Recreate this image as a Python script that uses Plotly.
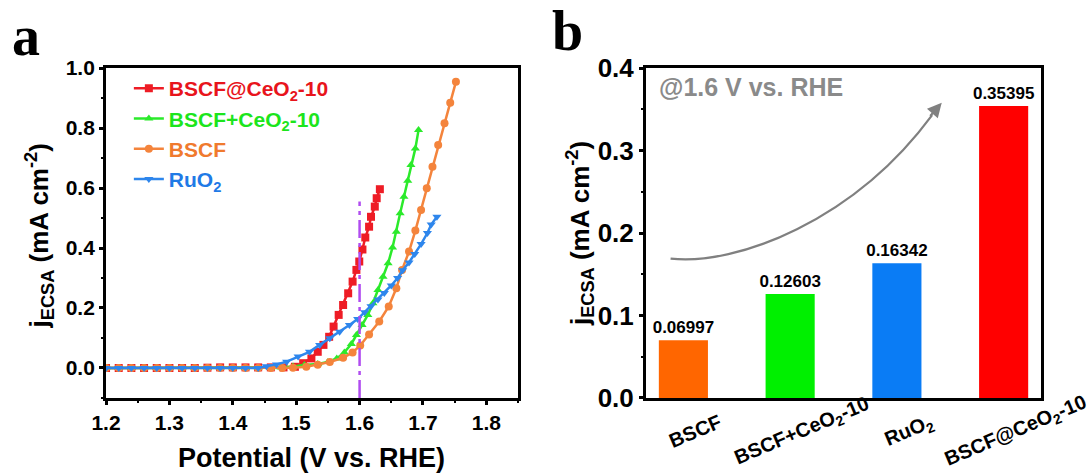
import plotly.graph_objects as go

# ---------------- Panel a data ----------------
flat_x = [1.20, 1.22, 1.24, 1.26, 1.28, 1.30, 1.32, 1.34, 1.36, 1.38, 1.40, 1.42, 1.44]

red_x = flat_x + [1.46, 1.48, 1.498, 1.511, 1.524, 1.534, 1.543, 1.552, 1.559, 1.567, 1.574,
                  1.582, 1.589, 1.595, 1.5995, 1.6045, 1.609, 1.615, 1.618, 1.624, 1.627, 1.632]
red_y = [0.0, 0.0, 0.0, 0.0, 0.0, 0.0, 0.0, 0.0, 0.001, 0.002, 0.002, 0.002, 0.002,
         0.002, 0.002, 0.004, 0.016, 0.032, 0.054, 0.077, 0.104, 0.138, 0.177, 0.21,
         0.249, 0.288, 0.327, 0.355, 0.395, 0.435, 0.471, 0.504, 0.538, 0.566, 0.596]

green_x = flat_x + [1.46, 1.476, 1.495, 1.513, 1.534, 1.55, 1.564, 1.576, 1.587, 1.595, 1.604,
                    1.613, 1.621, 1.629, 1.637, 1.645, 1.652, 1.658, 1.664, 1.67, 1.676, 1.681,
                    1.688, 1.693]
green_y = [0.0] * 13 + [0.001, 0.002, 0.005, 0.01, 0.013, 0.02, 0.032, 0.052, 0.08, 0.11, 0.143,
                        0.177, 0.216, 0.26, 0.304, 0.349, 0.402, 0.454, 0.516, 0.571, 0.624,
                        0.677, 0.732, 0.793]

orange_x = flat_x + [1.46, 1.478, 1.495, 1.516, 1.534, 1.553, 1.574, 1.589, 1.601, 1.615, 1.631,
                     1.646, 1.658, 1.667, 1.678, 1.688, 1.697, 1.706, 1.715, 1.724, 1.734,
                     1.743, 1.752]
orange_y = [0.0] * 13 + [0.0, 0.0, 0.001, 0.004, 0.011, 0.02, 0.034, 0.052, 0.075, 0.112, 0.155,
                         0.205, 0.266, 0.327, 0.388, 0.458, 0.527, 0.599, 0.671, 0.743, 0.816,
                         0.884, 0.954]

blue_x = flat_x + [1.453, 1.469, 1.485, 1.503, 1.521, 1.537, 1.553, 1.5685, 1.584, 1.597, 1.608,
                   1.618, 1.629, 1.639, 1.65, 1.66, 1.668, 1.678, 1.687, 1.697, 1.707, 1.713, 1.722]
blue_y = [0.0] * 13 + [0.006, 0.012, 0.021, 0.038, 0.054, 0.077, 0.099, 0.121, 0.143, 0.163,
                       0.186, 0.206, 0.228, 0.25, 0.275, 0.3, 0.326, 0.352, 0.38, 0.413, 0.45,
                       0.478, 0.504]

vline_x = [1.6, 1.6]
vline_y = [-0.1, 0.555]

# ---------------- Panel b data ----------------
categories = ["BSCF", "BSCF+CeO<sub>2</sub>-10", "RuO<sub>2</sub>", "BSCF@CeO<sub>2</sub>-10"]
bar_values = [0.06997, 0.12603, 0.16342, 0.35395]
bar_colors = ["#FF6600", "#00F000", "#0A7CF5", "#FF0000"]

FONT = "Liberation Sans, Arial, sans-serif"

fig = go.Figure()

series = [
    ("BSCF@CeO<sub>2</sub>-10", red_x, red_y, "#EE1C25", "#E8141C", "square"),
    ("BSCF+CeO<sub>2</sub>-10", green_x, green_y, "#2BEA2B", "#1CE51C", "triangle-up"),
    ("BSCF", orange_x, orange_y, "#F4843C", "#F07A2E", "circle"),
    ("RuO<sub>2</sub>", blue_x, blue_y, "#2E86EC", "#1F7AE6", "triangle-down"),
]
for i, (nm, xs, ys, col, tcol, sym) in enumerate(series):
    fig.add_trace(go.Scatter(
        x=xs, y=ys, mode="lines+markers",
        name=f"<span style='color:{tcol}'>{nm}</span>",
        legendgroup=f"g{i}",
        line=dict(color=col, width=2.5),
        marker=dict(symbol=sym, size=8, color=col),
        xaxis="x", yaxis="y",
    ))

fig.add_trace(go.Scatter(
    x=vline_x, y=vline_y, mode="lines", showlegend=False,
    line=dict(color="#B04CF0", width=2.5, dash="18px,5px,4px,5px"),
    xaxis="x", yaxis="y",
))

# bars
xpos = list(range(len(categories)))
fig.add_trace(go.Bar(
    x=xpos, y=bar_values, marker=dict(color=bar_colors, line=dict(width=0)),
    width=0.46, showlegend=False,
    text=[f"{v:.5f}" for v in bar_values], textposition="outside",
    textfont=dict(family=FONT, size=17, color="black", weight="bold"),
    constraintext="none",
    cliponaxis=False,
    xaxis="x2", yaxis="y2",
))

axis_common = dict(
    showline=True, linecolor="black", linewidth=3, mirror=True,
    ticks="outside", ticklen=4, tickwidth=2.5, tickcolor="black",
    showgrid=False, zeroline=False, automargin=False,
)
minor_common = dict(ticks="outside", ticklen=2, tickwidth=2, tickcolor="black")

ydom = [0.1639, 0.8571]
fig.update_layout(
    width=1092, height=476,
    margin=dict(l=0, r=0, t=0, b=0, autoexpand=False),
    paper_bgcolor="white", plot_bgcolor="white",
    showlegend=True,
    legend=dict(
        x=0.118, y=0.857, xanchor="left", yanchor="top",
        bgcolor="rgba(0,0,0,0)", tracegroupgap=0,
        font=dict(family=FONT, size=21, weight="bold"),
    ),
    xaxis=dict(domain=[0.0971, 0.4744], range=[1.2, 1.85], dtick=0.1, tick0=1.2,
               tickformat=".1f",
               tickfont=dict(family=FONT, size=21, color="black", weight="bold"),
               minor=dict(dtick=0.05, **minor_common),
               **axis_common),
    yaxis=dict(domain=ydom, range=[-0.1, 1.0], dtick=0.2, tick0=0, tickformat=".1f",
               tickfont=dict(family=FONT, size=21, color="black", weight="bold"),
               minor=dict(dtick=0.1, tick0=0, **minor_common),
               **axis_common),
    xaxis2=dict(domain=[0.5916, 0.9533], range=[-0.35, 3.35], showticklabels=False,
                showline=True, linecolor="black", linewidth=3, mirror=True, automargin=False,
                ticks="", showgrid=False, zeroline=False, anchor="y2"),
    yaxis2=dict(domain=ydom, range=[0, 0.4], dtick=0.1, tickformat=".1f", anchor="x2",
                tickfont=dict(family=FONT, size=26, color="black", weight="bold"),
                minor=dict(dtick=0.05, **minor_common),
                **axis_common),
)

annotations = []
# axis titles
annotations.append(dict(text="Potential (V vs. RHE)", x=0.2848, y=0.038, xref="paper", yref="paper",
                        xanchor="center", yanchor="middle", showarrow=False,
                        font=dict(family=FONT, size=27, color="black", weight="bold")))
for xp, yp in [(0.036, 0.504), (0.531, 0.51)]:
    annotations.append(dict(text="j<sub>ECSA</sub> (mA cm<sup>-2</sup>)", x=xp, y=yp,
                            xref="paper", yref="paper", textangle=-90, showarrow=False,
                            xanchor="center", yanchor="middle",
                            font=dict(family=FONT, size=26, color="black", weight="bold")))
# panel labels
annotations.append(dict(text="a", x=0.024, y=0.925, xref="paper", yref="paper", showarrow=False,
                        xanchor="center", yanchor="middle",
                        font=dict(family="Liberation Serif, Times New Roman, serif", size=56,
                                  color="black", weight="bold")))
annotations.append(dict(text="b", x=0.520, y=0.935, xref="paper", yref="paper", showarrow=False,
                        xanchor="center", yanchor="middle",
                        font=dict(family="Liberation Serif, Times New Roman, serif", size=56,
                                  color="black", weight="bold")))
# condition note
annotations.append(dict(text="@1.6 V vs. RHE", x=-0.25, y=0.377, xref="x2", yref="y2",
                        xanchor="left", yanchor="middle", showarrow=False,
                        font=dict(family=FONT, size=25, color="#8A8A8A", weight="bold")))
# rotated category labels
for xi, lab in zip(xpos, categories):
    annotations.append(dict(text=lab, x=xi, y=0.094, xref="x2", yref="paper", xshift=12,
                            xanchor="center", yanchor="middle",
                            textangle=-23, showarrow=False,
                            font=dict(family=FONT, size=20, color="black", weight="bold")))
# arrowhead for curved arrow
annotations.append(dict(x=2.42, y=0.358, ax=2.30, ay=0.340, xref="x2", yref="y2",
                        axref="x2", ayref="y2", text="", showarrow=True,
                        arrowhead=2, arrowsize=1.3, arrowwidth=2.2, arrowcolor="#808080"))
fig.update_layout(annotations=annotations)

fig.add_shape(type="path", xref="x2", yref="y2",
              path="M -0.12,0.169 C 0.5,0.16 1.6,0.215 2.33,0.343",
              line=dict(color="#808080", width=2.2))

fig.write_html("out.html")
